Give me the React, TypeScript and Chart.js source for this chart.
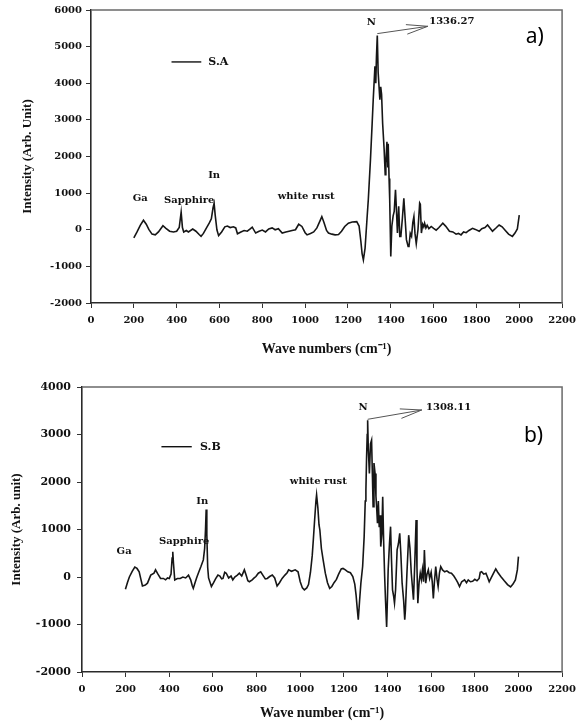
import React, { useEffect, useRef } from 'react';
import { Chart, registerables } from 'chart.js';

Chart.register(...registerables);

// ---------- data: panel a (S.A) ----------
const waveA = [
  200, 215, 230, 245, 258, 270, 285, 300, 315, 336, 350, 367, 385, 400, 412, 421, 427, 433, 445, 455,
  475, 490, 505, 514, 525, 540, 552, 562, 570, 575, 580, 588, 596, 610, 625, 637, 650, 665, 676, 684,
  700, 715, 730, 745, 753, 769, 785, 800, 815, 830, 846, 860, 875, 893, 910, 925, 939, 955, 970, 985,
  1000, 1009, 1025, 1040, 1055, 1070, 1078, 1088, 1100, 1109, 1125, 1140, 1156, 1170, 1185, 1202, 1220, 1241, 1252, 1260,
  1266, 1272, 1280, 1289, 1295, 1305, 1313, 1318, 1326, 1330, 1333, 1337, 1341, 1344, 1349, 1353, 1357, 1362, 1369, 1374,
  1377, 1382, 1386, 1388, 1392, 1395, 1400, 1405, 1411, 1416, 1422, 1426, 1431, 1437, 1442, 1447, 1454, 1461, 1467, 1473,
  1481, 1485, 1491, 1497, 1503, 1508, 1513, 1519, 1527, 1535, 1538, 1543, 1549, 1554, 1558, 1564, 1570, 1578, 1589, 1600,
  1612, 1625, 1643, 1656, 1674, 1690, 1705, 1716, 1728, 1740, 1752, 1765, 1782, 1795, 1813, 1825, 1840, 1852, 1864, 1875,
  1890, 1906, 1920, 1935, 1950, 1968, 1980, 1991, 2000,
];
const intensityA = [
  -220, -60, 120, 260, 150, 10, -120, -140, -60, 110, 40, -40, -60, -40, 60, 480, 60, -60, -20, -60,
  20, -40, -130, -180, -100, 60, 180, 300, 600, 720, 400, 0, -160, -60, 80, 100, 60, 80, 50, -110,
  -60, -20, -40, 30, 70, -90, -40, -10, -60, 20, 50, 0, 30, -90, -60, -40, -20, 0, 150, 90,
  -80, -140, -100, -60, 50, 250, 360, 200, -20, -90, -120, -140, -130, -40, 90, 180, 210, 220, 100, -300,
  -650, -820, -500, 300, 820, 1900, 2900, 3550, 4460, 4000, 4700, 5300, 4300, 4300, 3550, 3900, 3700, 2900, 2190, 1500,
  1820, 2400, 1700, 2350, 1400, 820, -730, 100, 380, 500, 1090, 600, -90, 640, -180, -180, 300, 860, 300, -270,
  -455, -450, -100, -180, 200, 360, -100, -380, 0, 730, 700, -90, 150, 80, 180, 50, 120, 30, 90, 40,
  -10, 60, 180, 100, -40, -60, -120, -100, -140, -60, -80, -20, 40, 10, -40, 30, 60, 130, 40, -40,
  40, 130, 80, -20, -120, -180, -90, 20, 400,
];

// ---------- data: panel b (S.B) ----------
const waveB = [
  199, 208, 217, 230, 242, 252, 262, 270, 277, 290, 300, 315, 330, 337, 348, 360, 373, 383, 392, 400,
  408, 413, 416, 419, 425, 437, 450, 462, 475, 488, 498, 505, 510, 518, 525, 533, 545, 556, 562, 566,
  569, 572, 576, 580, 593, 603, 612, 623, 632, 640, 646, 654, 661, 672, 683, 691, 700, 712, 721, 732,
  744, 752, 760, 767, 780, 789, 797, 808, 819, 830, 840, 849, 860, 872, 883, 894, 905, 917, 930, 940,
  947, 960, 977, 990, 1000, 1010, 1019, 1030, 1038, 1047, 1055, 1060, 1066, 1072, 1075, 1081, 1086, 1090, 1097, 1105,
  1115, 1125, 1135, 1145, 1155, 1166, 1176, 1188, 1196, 1207, 1218, 1230, 1241, 1250, 1256, 1261, 1266, 1272, 1278, 1286,
  1293, 1298, 1301, 1304, 1307, 1309, 1312, 1317, 1322, 1327, 1331, 1334, 1338, 1343, 1347, 1351, 1354, 1358, 1362, 1366,
  1369, 1374, 1378, 1382, 1387, 1391, 1396, 1400, 1403, 1409, 1414, 1418, 1423, 1428, 1432, 1437, 1444, 1450, 1456, 1461,
  1467, 1474, 1479, 1482, 1489, 1497, 1503, 1509, 1514, 1519, 1525, 1531, 1535, 1539, 1545, 1550, 1555, 1560, 1565, 1569,
  1575, 1581, 1587, 1593, 1600, 1605, 1610, 1615, 1621, 1627, 1632, 1638, 1644, 1652, 1662, 1672, 1683, 1693, 1704, 1715,
  1722, 1730, 1740, 1753, 1762, 1770, 1780, 1790, 1800, 1810, 1820, 1825, 1831, 1841, 1851, 1858, 1866, 1875, 1886, 1896,
  1905, 1919, 1935, 1950, 1964, 1975, 1986, 1995, 2000,
];
const intensityB = [
  -260, -120, 0, 120, 210, 180, 110, -50, -190, -170, -130, 40, 80, 150, 60, -30, -30, -60, -20, -30,
  60, 400, 530, 300, -60, -30, -30, 0, -20, 40, -60, -180, -240, -120, -20, 80, 220, 360, 600, 1000,
  1420, 900, 200, -20, -200, -120, -40, 40, 20, -40, -30, 100, 80, -20, 20, -60, 0, 40, 80, 20,
  150, 40, -80, -100, -60, -20, 10, 80, 110, 30, -40, -30, 10, 40, -20, -190, -120, -30, 40, 90,
  150, 120, 150, 110, -100, -230, -270, -230, -160, 100, 450, 780, 1200, 1600, 1730, 1450, 1100, 990, 600, 360,
  80, -120, -240, -200, -120, -50, 60, 170, 180, 150, 110, 90, 10, -150, -380, -650, -900, -500, -130, 220,
  850, 1600, 1830, 2500, 3000, 3300, 2700, 2180, 2800, 2880, 2100, 1480, 2400, 2180, 1700, 1400, 1130, 1600, 1050, 1300,
  640, 900, 1690, 800, 0, -500, -1050, -400, 150, 700, 1060, 400, -270, -400, -550, -270, 570, 700, 920, 500,
  -130, -500, -900, -700, 80, 880, 600, 80, -200, -480, 300, 1200, 200, -550, -100, 80, -50, 150, -100, 570,
  -130, 60, 150, -30, 100, -100, -450, -100, 220, -50, -200, 80, 220, 150, 110, 130, 90, 80, 20, -60,
  -120, -200, -100, -60, -120, -60, -100, -90, -50, -80, -30, 100, 110, 60, 80, 0, -100, -20, 80, 170,
  100, 10, -80, -160, -210, -150, -60, 150, 430,
];

// ---------- tick labels ----------
const xTickValues = [0, 200, 400, 600, 800, 1000, 1200, 1400, 1600, 1800, 2000, 2200];
const yTicksA = [-2000, -1000, 0, 1000, 2000, 3000, 4000, 5000, 6000];
const yTicksB = [-2000, -1000, 0, 1000, 2000, 3000, 4000];

// ---------- annotation texts and their anchors (data coordinates) ----------
const peakTextsA = ['Ga', 'Sapphire', 'In', 'white rust', 'N', '1336.27'];
const peakTextWaveA = [230, 459, 575, 1005, 1309, 1685];
const peakTextIntA = [847, 792, 1475, 900, 5664, 5690];
const arrowA = [1337, 5355, 1573, 5555];
const legendA = { text: 'S.A', lineFrom: 376, lineTo: 515, textAt: 548, level: 4582 };
const panelA = { text: 'a)', wave: 2072, level: 5273 };

const peakTextsB = ['Ga', 'Sapphire', 'In', 'white rust', 'N', '1308.11'];
const peakTextWaveB = [193, 468, 551, 1083, 1288, 1680];
const peakTextIntB = [533, 743, 1600, 2006, 3572, 3572];
const arrowB = [1309, 3320, 1557, 3516];
const legendB = { text: 'S.B', lineFrom: 364, lineTo: 503, textAt: 541, level: 2743 };
const panelB = { text: 'b)', wave: 2069, level: 2968 };

const TICK_FONT = "'DejaVu Serif', serif";
const TITLE_FONT = "'Liberation Serif', 'Times New Roman', serif";

type PanelCfg = {
  wave: number[];
  intensity: number[];
  yTicks: number[];
  yMin: number;
  yMax: number;
  yTitle: string;
  xTitle: string;
  texts: string[];
  textWave: number[];
  textInt: number[];
  arrow: number[];
  legend: { text: string; lineFrom: number; lineTo: number; textAt: number; level: number };
  panel: { text: string; wave: number; level: number };
  width: number;
  height: number;
  pad: { left: number; right: number; top: number; bottom: number };
  yAxisWidth: number;
  xAxisHeight: number;
  yTitlePad: number;
  xTitlePad: number;
  yTickPad: number;
  yTickSize: number;
  xTickSize: number;
};

function decorPlugin(cfg: PanelCfg) {
  return {
    id: 'decor',
    afterDatasetsDraw(chart: any) {
      const { ctx, chartArea: a, scales } = chart;
      const x = scales.x;
      const y = scales.y;
      ctx.save();
      // top and right frame
      ctx.strokeStyle = '#6a6a6a';
      ctx.lineWidth = 1.5;
      ctx.beginPath();
      ctx.moveTo(a.left, a.top);
      ctx.lineTo(a.right, a.top);
      ctx.lineTo(a.right, a.bottom);
      ctx.stroke();

      // peak labels
      ctx.fillStyle = '#111';
      ctx.font = `bold 10px ${TICK_FONT}`;
      ctx.textAlign = 'center';
      ctx.textBaseline = 'middle';
      cfg.texts.forEach((t, i) => {
        ctx.fillText(t, x.getPixelForValue(cfg.textWave[i]), y.getPixelForValue(cfg.textInt[i]));
      });

      // arrow
      const x1 = x.getPixelForValue(cfg.arrow[0]);
      const y1 = y.getPixelForValue(cfg.arrow[1]);
      const x2 = x.getPixelForValue(cfg.arrow[2]);
      const y2 = y.getPixelForValue(cfg.arrow[3]);
      const ang = Math.atan2(y2 - y1, x2 - x1);
      const hl = 22;
      ctx.strokeStyle = '#555';
      ctx.lineWidth = 1;
      ctx.beginPath();
      ctx.moveTo(x1, y1);
      ctx.lineTo(x2, y2);
      ctx.moveTo(x2 - hl * Math.cos(ang - 0.22), y2 - hl * Math.sin(ang - 0.22));
      ctx.lineTo(x2, y2);
      ctx.lineTo(x2 - hl * Math.cos(ang + 0.22), y2 - hl * Math.sin(ang + 0.22));
      ctx.stroke();

      // legend
      const ly = y.getPixelForValue(cfg.legend.level);
      ctx.strokeStyle = '#111';
      ctx.lineWidth = 1.4;
      ctx.beginPath();
      ctx.moveTo(x.getPixelForValue(cfg.legend.lineFrom), ly);
      ctx.lineTo(x.getPixelForValue(cfg.legend.lineTo), ly);
      ctx.stroke();
      ctx.font = `bold 11px ${TICK_FONT}`;
      ctx.textAlign = 'left';
      ctx.fillText(cfg.legend.text, x.getPixelForValue(cfg.legend.textAt), ly);

      // panel letter
      ctx.font = "21px 'Noto Sans', 'Open Sans', sans-serif";
      ctx.textAlign = 'center';
      ctx.fillStyle = '#000';
      ctx.fillText(cfg.panel.text, x.getPixelForValue(cfg.panel.wave), y.getPixelForValue(cfg.panel.level));
      ctx.restore();
    },
  };
}

function Panel({ cfg, top }: { cfg: PanelCfg; top: number }) {
  const ref = useRef<HTMLCanvasElement | null>(null);
  useEffect(() => {
    if (!ref.current) return;
    const chart = new Chart(ref.current, {
      type: 'line',
      data: {
        datasets: [
          {
            data: cfg.wave.map((w, i) => ({ x: w, y: cfg.intensity[i] })),
            borderColor: '#161616',
            borderWidth: 1.6,
            pointRadius: 0,
            tension: 0,
            fill: false,
          },
        ],
      },
      options: {
        responsive: false,
        animation: false,
        events: [],
        layout: { padding: cfg.pad },
        plugins: { legend: { display: false }, tooltip: { enabled: false }, title: { display: false } },
        scales: {
          x: {
            type: 'linear',
            min: 0,
            max: 2200,
            afterBuildTicks: (s: any) => {
              s.ticks = xTickValues.map((v) => ({ value: v }));
            },
            afterFit: (s: any) => {
              s.height = cfg.xAxisHeight;
            },
            grid: { drawOnChartArea: false, drawTicks: true, tickLength: 5, color: '#333', lineWidth: 1 },
            border: { display: true, color: '#2a2a2a', width: 1.6 },
            ticks: {
              autoSkip: false,
              maxRotation: 0,
              padding: 6,
              color: '#111',
              font: { family: TICK_FONT, size: cfg.xTickSize, weight: 'bold' },
              callback: (v: any) => String(v),
            },
            title: {
              display: true,
              text: cfg.xTitle,
              color: '#111',
              font: { family: TITLE_FONT, size: 14, weight: 'bold' },
              padding: { top: 0, bottom: cfg.xTitlePad },
            },
          },
          y: {
            type: 'linear',
            min: cfg.yMin,
            max: cfg.yMax,
            afterBuildTicks: (s: any) => {
              s.ticks = cfg.yTicks.map((v) => ({ value: v }));
            },
            afterFit: (s: any) => {
              s.width = cfg.yAxisWidth;
            },
            grid: { drawOnChartArea: false, drawTicks: true, tickLength: 5, color: '#333', lineWidth: 1 },
            border: { display: true, color: '#2a2a2a', width: 1.6 },
            ticks: {
              autoSkip: false,
              padding: cfg.yTickPad,
              color: '#111',
              font: { family: TICK_FONT, size: cfg.yTickSize, weight: 'bold' },
              callback: (v: any) => String(v),
            },
            title: {
              display: true,
              text: cfg.yTitle,
              color: '#111',
              font: { family: TITLE_FONT, size: 13, weight: 'bold' },
              padding: { top: cfg.yTitlePad, bottom: 0 },
            },
          },
        },
      },
      plugins: [decorPlugin(cfg)],
    } as any);
    return () => chart.destroy();
  }, [cfg]);
  return (
    <canvas
      ref={ref}
      width={cfg.width}
      height={cfg.height}
      style={{ position: 'absolute', left: 0, top, width: cfg.width, height: cfg.height, display: 'block' }}
    />
  );
}

const cfgA: PanelCfg = {
  wave: waveA,
  intensity: intensityA,
  yTicks: yTicksA,
  yMin: -2000,
  yMax: 6000,
  yTitle: 'Intensity (Arb. Unit)',
  xTitle: 'Wave numbers (cm\u207B\u00B9)',
  texts: peakTextsA,
  textWave: peakTextWaveA,
  textInt: peakTextIntA,
  arrow: arrowA,
  legend: legendA,
  panel: panelA,
  width: 582,
  height: 365,
  pad: { left: 0, right: 17, top: 10, bottom: 0 },
  yAxisWidth: 91,
  xAxisHeight: 62,
  yTitlePad: 19.7,
  xTitlePad: 7.6,
  yTickPad: 4,
  yTickSize: 10,
  xTickSize: 10,
};

const cfgB: PanelCfg = {
  wave: waveB,
  intensity: intensityB,
  yTicks: yTicksB,
  yMin: -2000,
  yMax: 4000,
  yTitle: 'Intensity (Arb. unit)',
  xTitle: 'Wave number (cm\u207B\u00B9)',
  texts: peakTextsB,
  textWave: peakTextWaveB,
  textInt: peakTextIntB,
  arrow: arrowB,
  legend: legendB,
  panel: panelB,
  width: 582,
  height: 361,
  pad: { left: 0, right: 13, top: 22, bottom: 0 },
  yAxisWidth: 82,
  xAxisHeight: 54,
  yTitlePad: 9.2,
  xTitlePad: 4.6,
  yTickPad: 6,
  yTickSize: 11,
  xTickSize: 10,
};

export default function App() {
  return (
    <div style={{ position: 'absolute', left: 0, top: 0, width: 582, height: 726, background: '#fff' }}>
      <Panel cfg={cfgA} top={0} />
      <Panel cfg={cfgB} top={365} />
    </div>
  );
}
